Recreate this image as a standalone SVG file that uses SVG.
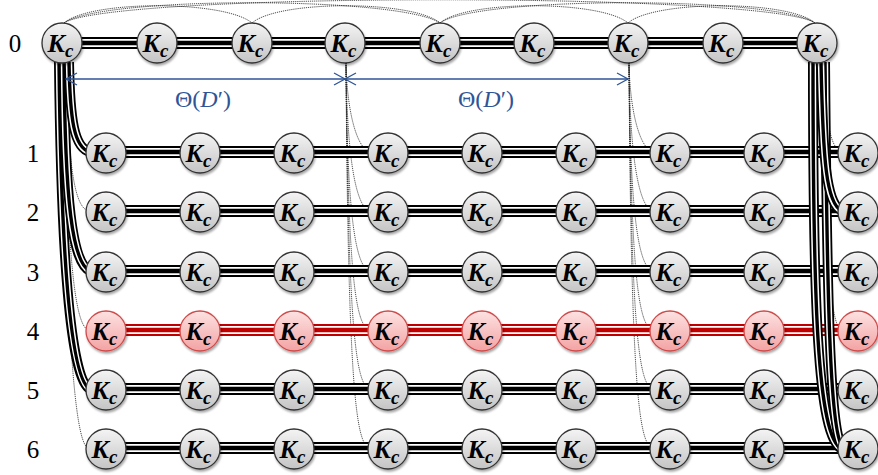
<svg xmlns="http://www.w3.org/2000/svg" xmlns:xlink="http://www.w3.org/1999/xlink" width="878" height="475" viewBox="0 0 878 475">
<defs>
<linearGradient id="gg" x1="0" y1="0" x2="0" y2="1"><stop offset="0" stop-color="#f4f4f4"/><stop offset="1" stop-color="#c4c4c4"/></linearGradient>
<linearGradient id="gr" x1="0" y1="0" x2="0" y2="1"><stop offset="0" stop-color="#fde2e2"/><stop offset="1" stop-color="#f3a3a3"/></linearGradient>
<filter id="sh" x="-30%" y="-30%" width="160%" height="170%"><feDropShadow dx="1" dy="2" stdDeviation="1.3" flood-color="#000" flood-opacity="0.35"/></filter>
<marker id="ah" viewBox="-13 -8 15 16" refX="0" refY="0" markerWidth="15" markerHeight="16" markerUnits="userSpaceOnUse" orient="auto-start-reverse"><path d="M-11,-6 L0,0 L-11,6" fill="none" stroke="#2f5597" stroke-width="1.3"/></marker>
<path id="h0" d="M62 43 H817"/>
<path id="h1" d="M106 152 H858"/>
<path id="h2" d="M106 211 H858"/>
<path id="h3" d="M106 271 H858"/>
<path id="h4" d="M106 330 H858"/>
<path id="h5" d="M106 389 H858"/>
<path id="h6" d="M106 448 H858"/>
<path id="L1" d="M69 62 C70 120, 74 148, 90 152"/>
<path id="L3" d="M64 62 C65 200, 72 263, 90 271"/>
<path id="L5" d="M59 62 C61 250, 70 380, 90 389"/>
<path id="R2" d="M821 62 C823 160, 826 204, 842 211"/>
<path id="R6a" d="M813 62 C813 300, 817 438, 842 449"/>
<path id="R6b" d="M825 62 C827 300, 830 430, 842 446"/>
</defs>
<style>
.b1{stroke:#000;stroke-width:12;fill:none}
.b2{stroke:#fff;stroke-width:8;fill:none}
.b3{stroke:#000;stroke-width:4.6;fill:none}
.r1{stroke:#c00000;stroke-width:12;fill:none}
.r3{stroke:#c00000;stroke-width:4.6;fill:none}
.v1{stroke:#000;stroke-width:10;fill:none}
.v2{stroke:#fff;stroke-width:6.4;fill:none}
.v3{stroke:#000;stroke-width:3.4;fill:none}
.dot{stroke:#222;stroke-width:0.8;stroke-dasharray:1.2 0.9;fill:none}
.arr{stroke:#2f5597;stroke-width:1.3;fill:none;marker-start:url(#ah);marker-end:url(#ah)}
.node circle{fill:url(#gg);stroke:#333;stroke-width:1.3;filter:url(#sh)}
.red circle{fill:url(#gr);stroke:#d04a4a}
.node text{font-family:"Liberation Serif",serif;font-weight:bold;font-style:italic;font-size:26px;text-anchor:middle;fill:#000}
.node tspan{font-size:19px}
.lab{font-family:"Liberation Serif",serif;font-size:25px;text-anchor:middle;fill:#000}
.theta{font-family:"Liberation Serif",serif;font-size:24px;text-anchor:middle;fill:#2f5597}
</style>
<rect width="878" height="475" fill="#fff"/>
<g id="labels">
<text class="lab" x="15" y="52">0</text>
<text class="lab" x="33" y="162">1</text>
<text class="lab" x="33" y="221">2</text>
<text class="lab" x="33" y="281">3</text>
<text class="lab" x="33" y="340">4</text>
<text class="lab" x="33" y="399">5</text>
<text class="lab" x="33" y="458">6</text>
</g>
<g id="connectors">
<g id="top-arcs" class="dot">
<path d="M64 23 C90 0, 225 0, 252 23"/>
<path d="M64 23 C100 -4, 400 -4, 440 23"/>
<path d="M252 23 C278 0, 413 0, 440 23"/>
<path d="M440 23 C466 0, 601 0, 628 23"/>
<path d="M440 23 C476 -4, 777 -4, 815 23"/>
<path d="M628 23 C654 0, 789 0, 815 23"/>
<path d="M64 23 C110 -8, 770 -8, 815 23"/>
</g>
<g id="mid-dots" class="dot">
<path d="M346 63 C347 110, 356 146, 369 152"/>
<path d="M346 63 C347 160, 356 205, 369 211"/>
<path d="M346 63 C347 220, 356 265, 369 271"/>
<path d="M346 63 C348 280, 356 324, 369 330"/>
<path d="M346 63 C348 340, 357 383, 369 389"/>
<path d="M346 63 C348 400, 357 442, 369 448"/>
<path d="M629 63 C630 110, 639 146, 652 152"/>
<path d="M629 63 C630 160, 639 205, 652 211"/>
<path d="M629 63 C630 220, 639 265, 652 271"/>
<path d="M629 63 C631 280, 639 324, 652 330"/>
<path d="M629 63 C631 340, 640 383, 652 389"/>
<path d="M629 63 C631 400, 640 442, 652 448"/>
<path d="M66 62 C68 170, 75 206, 88 211"/>
<path d="M64 62 C67 260, 75 324, 88 330"/>
<path d="M62 62 C66 320, 74 442, 88 448"/>
<path d="M822 62 C826 120, 830 146, 840 151"/>
<path d="M820 62 C826 250, 830 320, 840 329"/>
</g>
<g id="rows">
<use href="#h0" class="b1"/><use href="#h0" class="b2"/><use href="#h0" class="b3"/>
<use href="#h1" class="b1"/><use href="#h1" class="b2"/><use href="#h1" class="b3"/>
<use href="#h2" class="b1"/><use href="#h2" class="b2"/><use href="#h2" class="b3"/>
<use href="#h3" class="b1"/><use href="#h3" class="b2"/><use href="#h3" class="b3"/>
<use href="#h4" class="r1"/><use href="#h4" class="b2"/><use href="#h4" class="r3"/>
<use href="#h5" class="b1"/><use href="#h5" class="b2"/><use href="#h5" class="b3"/>
<use href="#h6" class="b1"/><use href="#h6" class="b2"/><use href="#h6" class="b3"/>
</g>
<g id="bundles">
<use href="#L5" class="v1"/><use href="#L5" class="v2"/><use href="#L5" class="v3"/>
<use href="#L3" class="v1"/><use href="#L3" class="v2"/><use href="#L3" class="v3"/>
<use href="#L1" class="v1"/><use href="#L1" class="v2"/><use href="#L1" class="v3"/>
<use href="#R6a" class="v1"/><use href="#R6a" class="v2"/><use href="#R6a" class="v3"/>
<use href="#R6b" class="v1"/><use href="#R6b" class="v2"/><use href="#R6b" class="v3"/>
<use href="#R2" class="v1"/><use href="#R2" class="v2"/><use href="#R2" class="v3"/>
</g>
<g id="arrows">
<path class="arr" d="M66 79 H345"/>
<path class="arr" d="M345 79 H628"/>
</g>
</g>
<text class="theta" x="203" y="107">Θ(<tspan font-style="italic">D</tspan>′)</text>
<text class="theta" x="486" y="107">Θ(<tspan font-style="italic">D</tspan>′)</text>
<g id="n0_1" class="node"><circle cx="62" cy="43" r="20"/><text x="60.5" y="52">K<tspan dy="5">c</tspan></text></g>
<g id="n0_2" class="node"><circle cx="157" cy="43" r="20"/><text x="155.5" y="52">K<tspan dy="5">c</tspan></text></g>
<g id="n0_3" class="node"><circle cx="252" cy="43" r="20"/><text x="250.5" y="52">K<tspan dy="5">c</tspan></text></g>
<g id="n0_4" class="node"><circle cx="345" cy="43" r="20"/><text x="343.5" y="52">K<tspan dy="5">c</tspan></text></g>
<g id="n0_5" class="node"><circle cx="440" cy="43" r="20"/><text x="438.5" y="52">K<tspan dy="5">c</tspan></text></g>
<g id="n0_6" class="node"><circle cx="534" cy="43" r="20"/><text x="532.5" y="52">K<tspan dy="5">c</tspan></text></g>
<g id="n0_7" class="node"><circle cx="628" cy="43" r="20"/><text x="626.5" y="52">K<tspan dy="5">c</tspan></text></g>
<g id="n0_8" class="node"><circle cx="723" cy="43" r="20"/><text x="721.5" y="52">K<tspan dy="5">c</tspan></text></g>
<g id="n0_9" class="node"><circle cx="817" cy="43" r="20"/><text x="815.5" y="52">K<tspan dy="5">c</tspan></text></g>
<g id="n1_1" class="node"><circle cx="106" cy="153" r="20"/><text x="104.5" y="162">K<tspan dy="5">c</tspan></text></g>
<g id="n1_2" class="node"><circle cx="200" cy="153" r="20"/><text x="198.5" y="162">K<tspan dy="5">c</tspan></text></g>
<g id="n1_3" class="node"><circle cx="294" cy="153" r="20"/><text x="292.5" y="162">K<tspan dy="5">c</tspan></text></g>
<g id="n1_4" class="node"><circle cx="388" cy="153" r="20"/><text x="386.5" y="162">K<tspan dy="5">c</tspan></text></g>
<g id="n1_5" class="node"><circle cx="482" cy="153" r="20"/><text x="480.5" y="162">K<tspan dy="5">c</tspan></text></g>
<g id="n1_6" class="node"><circle cx="576" cy="153" r="20"/><text x="574.5" y="162">K<tspan dy="5">c</tspan></text></g>
<g id="n1_7" class="node"><circle cx="670" cy="153" r="20"/><text x="668.5" y="162">K<tspan dy="5">c</tspan></text></g>
<g id="n1_8" class="node"><circle cx="764" cy="153" r="20"/><text x="762.5" y="162">K<tspan dy="5">c</tspan></text></g>
<g id="n1_9" class="node"><circle cx="858" cy="153" r="20"/><text x="856.5" y="162">K<tspan dy="5">c</tspan></text></g>
<g id="n2_1" class="node"><circle cx="106" cy="212" r="20"/><text x="104.5" y="221">K<tspan dy="5">c</tspan></text></g>
<g id="n2_2" class="node"><circle cx="200" cy="212" r="20"/><text x="198.5" y="221">K<tspan dy="5">c</tspan></text></g>
<g id="n2_3" class="node"><circle cx="294" cy="212" r="20"/><text x="292.5" y="221">K<tspan dy="5">c</tspan></text></g>
<g id="n2_4" class="node"><circle cx="388" cy="212" r="20"/><text x="386.5" y="221">K<tspan dy="5">c</tspan></text></g>
<g id="n2_5" class="node"><circle cx="482" cy="212" r="20"/><text x="480.5" y="221">K<tspan dy="5">c</tspan></text></g>
<g id="n2_6" class="node"><circle cx="576" cy="212" r="20"/><text x="574.5" y="221">K<tspan dy="5">c</tspan></text></g>
<g id="n2_7" class="node"><circle cx="670" cy="212" r="20"/><text x="668.5" y="221">K<tspan dy="5">c</tspan></text></g>
<g id="n2_8" class="node"><circle cx="764" cy="212" r="20"/><text x="762.5" y="221">K<tspan dy="5">c</tspan></text></g>
<g id="n2_9" class="node"><circle cx="858" cy="212" r="20"/><text x="856.5" y="221">K<tspan dy="5">c</tspan></text></g>
<g id="n3_1" class="node"><circle cx="106" cy="272" r="20"/><text x="104.5" y="281">K<tspan dy="5">c</tspan></text></g>
<g id="n3_2" class="node"><circle cx="200" cy="272" r="20"/><text x="198.5" y="281">K<tspan dy="5">c</tspan></text></g>
<g id="n3_3" class="node"><circle cx="294" cy="272" r="20"/><text x="292.5" y="281">K<tspan dy="5">c</tspan></text></g>
<g id="n3_4" class="node"><circle cx="388" cy="272" r="20"/><text x="386.5" y="281">K<tspan dy="5">c</tspan></text></g>
<g id="n3_5" class="node"><circle cx="482" cy="272" r="20"/><text x="480.5" y="281">K<tspan dy="5">c</tspan></text></g>
<g id="n3_6" class="node"><circle cx="576" cy="272" r="20"/><text x="574.5" y="281">K<tspan dy="5">c</tspan></text></g>
<g id="n3_7" class="node"><circle cx="670" cy="272" r="20"/><text x="668.5" y="281">K<tspan dy="5">c</tspan></text></g>
<g id="n3_8" class="node"><circle cx="764" cy="272" r="20"/><text x="762.5" y="281">K<tspan dy="5">c</tspan></text></g>
<g id="n3_9" class="node"><circle cx="858" cy="272" r="20"/><text x="856.5" y="281">K<tspan dy="5">c</tspan></text></g>
<g id="n4_1" class="node red"><circle cx="106" cy="331" r="20"/><text x="104.5" y="340">K<tspan dy="5">c</tspan></text></g>
<g id="n4_2" class="node red"><circle cx="200" cy="331" r="20"/><text x="198.5" y="340">K<tspan dy="5">c</tspan></text></g>
<g id="n4_3" class="node red"><circle cx="294" cy="331" r="20"/><text x="292.5" y="340">K<tspan dy="5">c</tspan></text></g>
<g id="n4_4" class="node red"><circle cx="388" cy="331" r="20"/><text x="386.5" y="340">K<tspan dy="5">c</tspan></text></g>
<g id="n4_5" class="node red"><circle cx="482" cy="331" r="20"/><text x="480.5" y="340">K<tspan dy="5">c</tspan></text></g>
<g id="n4_6" class="node red"><circle cx="576" cy="331" r="20"/><text x="574.5" y="340">K<tspan dy="5">c</tspan></text></g>
<g id="n4_7" class="node red"><circle cx="670" cy="331" r="20"/><text x="668.5" y="340">K<tspan dy="5">c</tspan></text></g>
<g id="n4_8" class="node red"><circle cx="764" cy="331" r="20"/><text x="762.5" y="340">K<tspan dy="5">c</tspan></text></g>
<g id="n4_9" class="node red"><circle cx="858" cy="331" r="20"/><text x="856.5" y="340">K<tspan dy="5">c</tspan></text></g>
<g id="n5_1" class="node"><circle cx="106" cy="390" r="20"/><text x="104.5" y="399">K<tspan dy="5">c</tspan></text></g>
<g id="n5_2" class="node"><circle cx="200" cy="390" r="20"/><text x="198.5" y="399">K<tspan dy="5">c</tspan></text></g>
<g id="n5_3" class="node"><circle cx="294" cy="390" r="20"/><text x="292.5" y="399">K<tspan dy="5">c</tspan></text></g>
<g id="n5_4" class="node"><circle cx="388" cy="390" r="20"/><text x="386.5" y="399">K<tspan dy="5">c</tspan></text></g>
<g id="n5_5" class="node"><circle cx="482" cy="390" r="20"/><text x="480.5" y="399">K<tspan dy="5">c</tspan></text></g>
<g id="n5_6" class="node"><circle cx="576" cy="390" r="20"/><text x="574.5" y="399">K<tspan dy="5">c</tspan></text></g>
<g id="n5_7" class="node"><circle cx="670" cy="390" r="20"/><text x="668.5" y="399">K<tspan dy="5">c</tspan></text></g>
<g id="n5_8" class="node"><circle cx="764" cy="390" r="20"/><text x="762.5" y="399">K<tspan dy="5">c</tspan></text></g>
<g id="n5_9" class="node"><circle cx="858" cy="390" r="20"/><text x="856.5" y="399">K<tspan dy="5">c</tspan></text></g>
<g id="n6_1" class="node"><circle cx="106" cy="449" r="20"/><text x="104.5" y="458">K<tspan dy="5">c</tspan></text></g>
<g id="n6_2" class="node"><circle cx="200" cy="449" r="20"/><text x="198.5" y="458">K<tspan dy="5">c</tspan></text></g>
<g id="n6_3" class="node"><circle cx="294" cy="449" r="20"/><text x="292.5" y="458">K<tspan dy="5">c</tspan></text></g>
<g id="n6_4" class="node"><circle cx="388" cy="449" r="20"/><text x="386.5" y="458">K<tspan dy="5">c</tspan></text></g>
<g id="n6_5" class="node"><circle cx="482" cy="449" r="20"/><text x="480.5" y="458">K<tspan dy="5">c</tspan></text></g>
<g id="n6_6" class="node"><circle cx="576" cy="449" r="20"/><text x="574.5" y="458">K<tspan dy="5">c</tspan></text></g>
<g id="n6_7" class="node"><circle cx="670" cy="449" r="20"/><text x="668.5" y="458">K<tspan dy="5">c</tspan></text></g>
<g id="n6_8" class="node"><circle cx="764" cy="449" r="20"/><text x="762.5" y="458">K<tspan dy="5">c</tspan></text></g>
<g id="n6_9" class="node"><circle cx="858" cy="449" r="20"/><text x="856.5" y="458">K<tspan dy="5">c</tspan></text></g>
</svg>
